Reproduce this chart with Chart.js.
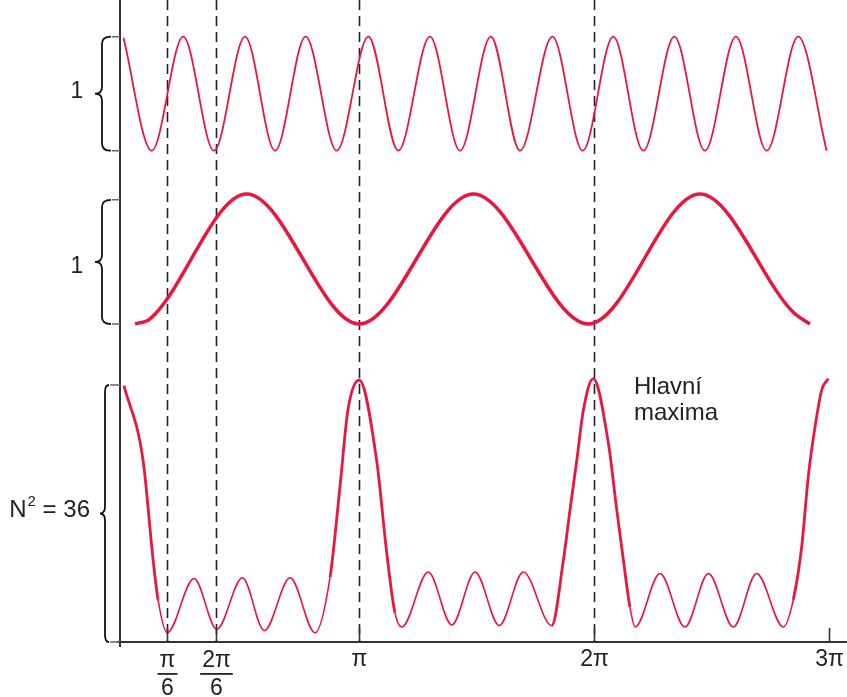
<!DOCTYPE html>
<html>
<head>
<meta charset="utf-8">
<script src="https://cdn.jsdelivr.net/npm/chart.js@4"></script>
<style>
  html, body { margin: 0; padding: 0; background: #fff; }
  canvas { display: block; }
</style>
</head>
<body>
<canvas id="gratingChart" width="847" height="697"></canvas>
<script>
// phase is given in units of pi
const topPhase = [0.000, 0.120, 0.254, 0.385, 0.517, 0.645, 0.775, 0.907, 1.042, 1.169, 1.304, 1.432,
                  1.563, 1.687, 1.825, 1.954, 2.084, 2.212, 2.344, 2.474, 2.606, 2.737, 2.871, 2.992];
const topValue = [0.99, 0, 1, 0, 1, 0, 1, 0, 1, 0, 1, 0,
                  1, 0, 1, 0, 1, 0, 1, 0, 1, 0, 1, 0];

const midPhase = [0.049, 0.113, 0.524, 1.003, 1.489, 1.978, 2.453, 2.850, 2.921];
const midValue = [0, 0.04, 1, 0, 1, 0, 1, 0.09, 0];

const botPhase = [0.002, 0.083, 0.126, 0.147, 0.186, 0.300, 0.397, 0.506, 0.599, 0.709, 0.815,
                  0.879, 0.921, 0.955, 1.003, 1.077, 1.120, 1.155, 1.184, 1.297, 1.397, 1.496,
                  1.599, 1.701, 1.822, 1.872, 1.900, 1.929, 1.957, 1.999, 2.063, 2.099, 2.127,
                  2.155, 2.177, 2.283, 2.389, 2.489, 2.595, 2.694, 2.808, 2.850, 2.886, 2.914,
                  2.943, 2.971, 2.999];
const botValue = [35.9, 25.5, 11.5, 5.9, 1.3, 8.9, 1.8, 9.0, 1.6, 9.0, 1.3,
                  9.1, 21.7, 32.5, 36.7, 25.5, 12.5, 4.1, 2.1, 9.8, 2.4, 9.8,
                  2.3, 9.8, 2.3, 11.5, 18.5, 25.5, 32.5, 36.9, 27.9, 18.5, 11.5,
                  4.9, 2.1, 9.6, 2.1, 9.6, 2.1, 9.6, 2.1, 5.9, 13.4, 23.2,
                  30.2, 35.3, 36.9];

const tickValues = [0.185, 0.394, 1, 2, 3];
const tickLabels = [['π', '6'], ['2π', '6'], 'π', '2π', '3π'];
const dashedAt = [0.185, 0.394, 1, 2];

const red = '#e8173e';
const font = '"Liberation Sans", Arial, sans-serif';

function toPoints(xs, ys) {
    return xs.map((x, i) => ({ x: x, y: ys[i] }));
}

function brace(ctx, xr, xm, xl, top, bot) {
    const mid = (top + bot) / 2, r = 7;
    ctx.beginPath();
    ctx.moveTo(xr, top);
    ctx.quadraticCurveTo(xm, top, xm, top + r);
    ctx.lineTo(xm, mid - r);
    ctx.quadraticCurveTo(xm, mid, xl, mid);
    ctx.quadraticCurveTo(xm, mid, xm, mid + r);
    ctx.lineTo(xm, bot - r);
    ctx.quadraticCurveTo(xm, bot, xr, bot);
    ctx.stroke();
}

const overlay = {
    id: 'overlay',
    beforeDatasetsDraw(chart) {
        const { ctx, chartArea, scales: { x } } = chart;
        ctx.save();
        ctx.strokeStyle = '#222';
        ctx.lineWidth = 1.6;
        ctx.setLineDash([10, 6]);
        dashedAt.forEach(v => {
            const px = Math.round(x.getPixelForValue(v)) + 0.5;
            ctx.beginPath();
            ctx.moveTo(px, 0);
            ctx.lineTo(px, chartArea.bottom);
            ctx.stroke();
        });
        ctx.restore();
    },
    afterDraw(chart) {
        const { ctx, chartArea, scales } = chart;
        const { x, yTop, yMid, yBot } = scales;
        const base = chartArea.bottom;
        ctx.save();

        // axes
        ctx.strokeStyle = '#333';
        ctx.lineWidth = 2;
        ctx.beginPath();
        ctx.moveTo(chartArea.left, 0);
        ctx.lineTo(chartArea.left, base + 5);
        ctx.moveTo(chartArea.left - 3, base);
        ctx.lineTo(chartArea.right, base);
        ctx.stroke();

        // inward ticks and labels
        ctx.lineWidth = 1.6;
        ctx.fillStyle = '#222';
        ctx.font = '23px ' + font;
        ctx.textAlign = 'center';
        ctx.textBaseline = 'middle';
        tickValues.forEach((v, i) => {
            const px = Math.round(x.getPixelForValue(v)) + 0.5;
            ctx.beginPath();
            ctx.moveTo(px, base - 14);
            ctx.lineTo(px, base);
            ctx.stroke();
            const lab = tickLabels[i];
            if (Array.isArray(lab)) {
                const w = Math.max(ctx.measureText(lab[0]).width, ctx.measureText(lab[1]).width) + 4;
                ctx.fillText(lab[0], px, base + 19);
                ctx.fillRect(px - w / 2, base + 31, w, 1.8);
                ctx.fillText(lab[1], px, base + 47);
            } else {
                ctx.fillText(lab, px, base + 18);
            }
        });

        // braces with their labels
        const braces = [
            { scale: yTop, lo: 0, hi: 1, xr: 111, xm: 102, xl: 95 },
            { scale: yMid, lo: 0, hi: 0.955, xr: 111, xm: 102, xl: 95 },
            { scale: yBot, lo: 0, hi: 36, xr: 109, xm: 105, xl: 100 }
        ];
        braces.forEach(b => {
            const top = b.scale.getPixelForValue(b.hi);
            const bot = b.scale.getPixelForValue(b.lo);
            ctx.strokeStyle = '#111';
            ctx.lineWidth = 1.8;
            brace(ctx, b.xr, b.xm, b.xl, top, bot);
            ctx.strokeStyle = '#666';
            ctx.lineWidth = 1.5;
            ctx.beginPath();
            ctx.moveTo(b.xr + 1, top);
            ctx.lineTo(chartArea.left, top);
            ctx.moveTo(b.xr + 1, bot);
            ctx.lineTo(chartArea.left, bot);
            ctx.stroke();
        });

        ctx.fillStyle = '#222';
        ctx.font = '23px ' + font;
        ctx.textAlign = 'center';
        ctx.fillText('1', 77, yTop.getPixelForValue(0.5) - 2);
        ctx.fillText('1', 77, yMid.getPixelForValue(0.5) + 8);

        ctx.font = '24px ' + font;
        ctx.textAlign = 'right';
        const eqY = yBot.getPixelForValue(18);
        ctx.fillText('= 36', 90, eqY - 3);
        const eqW = ctx.measureText('= 36 ').width;
        ctx.font = '15px ' + font;
        ctx.fillText('2', 90 - eqW, eqY - 12);
        const supW = ctx.measureText('2').width + 1;
        ctx.font = '24px ' + font;
        ctx.fillText('N', 90 - eqW - supW, eqY - 3);

        ctx.textAlign = 'left';
        ctx.fillText('Hlavní', 634, 387);
        ctx.fillText('maxima', 634, 413);

        ctx.restore();
    }
};

new Chart(document.getElementById('gratingChart'), {
    type: 'line',
    data: {
        datasets: [
            {
                label: 'top',
                data: toPoints(topPhase, topValue),
                yAxisID: 'yTop',
                borderColor: red,
                borderWidth: 1.8,
                pointRadius: 0,
                cubicInterpolationMode: 'monotone'
            },
            {
                label: 'middle',
                data: toPoints(midPhase, midValue),
                yAxisID: 'yMid',
                borderColor: red,
                borderWidth: 3.5,
                pointRadius: 0,
                cubicInterpolationMode: 'monotone'
            },
            {
                label: 'bottom',
                data: toPoints(botPhase, botValue),
                yAxisID: 'yBot',
                borderColor: red,
                borderWidth: 1.6,
                pointRadius: 0,
                cubicInterpolationMode: 'monotone',
                segment: {
                    borderWidth: c => (c.p0.parsed.y > 11 || c.p1.parsed.y > 11) ? 2.8 : 1.6
                }
            }
        ]
    },
    options: {
        responsive: false,
        animation: false,
        layout: { padding: { left: 120, right: 0, top: 0, bottom: 55 } },
        plugins: { legend: { display: false }, tooltip: { enabled: false } },
        scales: {
            x: { type: 'linear', min: -0.0149, max: 3.0787, display: false },
            yTop: { type: 'linear', min: -4.3096, max: 1.3219, display: false },
            yMid: { type: 'linear', min: -2.4462, max: 2.4923, display: false },
            yBot: { type: 'linear', min: 0, max: 89.93, display: false }
        }
    },
    plugins: [overlay]
});
</script>
</body>
</html>
